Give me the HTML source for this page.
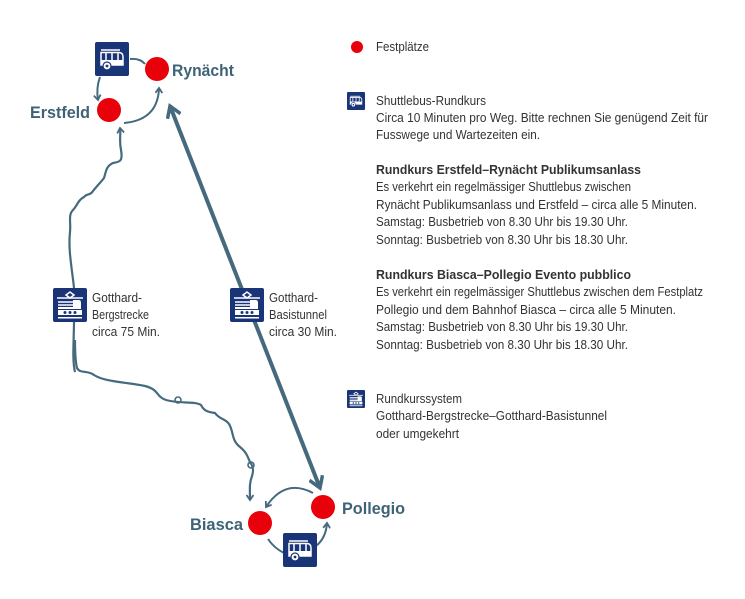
<!DOCTYPE html>
<html><head><meta charset="utf-8"><style>
html,body{margin:0;padding:0;background:#fff;}
svg{display:block;}
text{font-family:"Liberation Sans Narrow","Liberation Sans",sans-serif;}
.t{font-size:13px;fill:#333;}
.b{font-size:13px;fill:#333;font-weight:bold;}
.L{font-size:17px;fill:#3e6378;font-weight:bold;}
</style></head><body>
<svg width="745" height="599" viewBox="0 0 745 599" xmlns="http://www.w3.org/2000/svg">
<defs>
<g id="bus">
<rect x="0" y="0" width="34" height="34" rx="2" fill="#1a3577"/>
<g stroke="#fff" stroke-width="1.5" fill="none">
<line x1="6" y1="8" x2="25" y2="8"/>
<path d="M6 10.5 H24 Q28 10.5 28 15 V23 H6 Z"/>
<line x1="11" y1="10.5" x2="11" y2="18"/><line x1="17" y1="10.5" x2="17" y2="18"/><line x1="23" y1="10.5" x2="23" y2="18"/>
</g>
<rect x="6" y="18" width="22" height="5" fill="#fff"/>
<circle cx="12" cy="24" r="4" fill="#fff" stroke="#1a3577" stroke-width="1.2"/>
<circle cx="12" cy="24" r="1.4" fill="#1a3577"/>
</g>
<g id="train">
<rect x="0" y="0" width="34" height="34" rx="2" fill="#1a3577"/>
<g stroke="#fff" stroke-width="1.5" fill="none">
<path d="M13 7 L17 4 L21 7 L17 10 Z"/>
<line x1="4" y1="10" x2="30" y2="10"/>
<line x1="5" y1="14" x2="20" y2="14"/><line x1="5" y1="17" x2="20" y2="17"/>
</g>
<path d="M20 12 H26 Q28 12 28 15 V21 H5 V19 H20 Z" fill="#fff"/>
<rect x="5" y="22" width="24" height="5" fill="#fff"/>
<circle cx="12" cy="24.5" r="1.5" fill="#1a3577"/><circle cx="17" cy="24.5" r="1.5" fill="#1a3577"/><circle cx="22" cy="24.5" r="1.5" fill="#1a3577"/>
<rect x="5" y="29" width="24" height="1.5" fill="#fff"/>
</g>
<marker id="ah" markerWidth="8" markerHeight="8" refX="6" refY="4" orient="auto" markerUnits="userSpaceOnUse">
<path d="M1 0.5 L6 4 L1 7.5" fill="none" stroke="#456a7e" stroke-width="1.8"/>
</marker>
<marker id="big" markerWidth="16" markerHeight="16" refX="12" refY="8" orient="auto-start-reverse" markerUnits="userSpaceOnUse">
<path d="M1 1 L12 8 L1 15" fill="none" stroke="#456a7e" stroke-width="3.5"/>
</marker>
</defs>

<line x1="170" y1="106" x2="320" y2="488" stroke="#456a7e" stroke-width="4" marker-start="url(#big)" marker-end="url(#big)"/>
<path d="M75 372 C72 360 74 340 74 320 M74 288 C72 268 68 250 70 232 C71 222 68 215 73 210 C77 206 78 200 84 197 C87 193 90 196 93 191 C97 186 101 182 104 178 C106 172 106 166 113 163 C120 162 123 161 121 150 C119 140 121 135 120 128"
 fill="none" stroke="#456a7e" stroke-width="2.2" marker-end="url(#ah)"/>
<path d="M76 320 V288" stroke="#456a7e" stroke-width="2.2"/>
<path d="M75 340 C75 350 75 360 77 368 C80 374 88 370 94 375 C105 382 125 382 145 386 C160 390 155 396 166 400 C180 404 195 401 201 405 C204 411 208 412 215 413 C220 420 225 418 229 424 C234 432 231 440 240 447 C246 452 247 455 250 462 C253 466 254 470 252 476 C249 484 250 490 250 500"
 fill="none" stroke="#456a7e" stroke-width="2.2" marker-end="url(#ah)"/>
<circle cx="178" cy="400" r="3" fill="none" stroke="#456a7e" stroke-width="1.6"/>
<circle cx="251" cy="465" r="3" fill="none" stroke="#456a7e" stroke-width="1.6"/>

<path d="M130 59 Q140 58 145 64" fill="none" stroke="#456a7e" stroke-width="2"/>
<path d="M100 77 Q96 88 98 100" fill="none" stroke="#456a7e" stroke-width="2" marker-end="url(#ah)"/>
<path d="M124 123 Q158 120 159 88" fill="none" stroke="#456a7e" stroke-width="2" marker-end="url(#ah)"/>
<path d="M313 493 Q285 478 266 507" fill="none" stroke="#456a7e" stroke-width="2" marker-end="url(#ah)"/>
<path d="M268 539 Q274 548 284 553" fill="none" stroke="#456a7e" stroke-width="2"/>
<path d="M316 546 Q326 538 327 523" fill="none" stroke="#456a7e" stroke-width="2" marker-end="url(#ah)"/>

<circle cx="157" cy="69" r="12" fill="#e8000b"/>
<circle cx="109" cy="110" r="12" fill="#e8000b"/>
<circle cx="323" cy="507" r="12" fill="#e8000b"/>
<circle cx="260" cy="523" r="12" fill="#e8000b"/>
<circle cx="357" cy="47" r="6" fill="#e8000b"/>

<use href="#bus" x="95" y="42"/>
<use href="#bus" x="283" y="533"/>
<use href="#train" x="53" y="288"/>
<use href="#train" x="230" y="288"/>
<use href="#bus" transform="translate(347,92) scale(0.53)"/>
<use href="#train" transform="translate(347,390) scale(0.53)"/>

<text class="L" x="172" y="76" textLength="62" lengthAdjust="spacingAndGlyphs">Rynächt</text>
<text class="L" x="30" y="118" textLength="60" lengthAdjust="spacingAndGlyphs">Erstfeld</text>
<text class="L" x="190" y="530" textLength="53" lengthAdjust="spacingAndGlyphs">Biasca</text>
<text class="L" x="342" y="514" textLength="63" lengthAdjust="spacingAndGlyphs">Pollegio</text>

<text class="t" x="92" y="302" textLength="50" lengthAdjust="spacingAndGlyphs">Gotthard-</text>
<text class="t" x="92" y="319" textLength="57" lengthAdjust="spacingAndGlyphs">Bergstrecke</text>
<text class="t" x="92" y="336" textLength="68" lengthAdjust="spacingAndGlyphs">circa 75 Min.</text>
<text class="t" x="269" y="302" textLength="49" lengthAdjust="spacingAndGlyphs">Gotthard-</text>
<text class="t" x="269" y="319" textLength="58" lengthAdjust="spacingAndGlyphs">Basistunnel</text>
<text class="t" x="269" y="336" textLength="68" lengthAdjust="spacingAndGlyphs">circa 30 Min.</text>

<text class="t" x="376" y="51" textLength="53" lengthAdjust="spacingAndGlyphs">Festplätze</text>
<text class="t" x="376" y="105" textLength="110" lengthAdjust="spacingAndGlyphs">Shuttlebus-Rundkurs</text>
<text class="t" x="376" y="122" textLength="332" lengthAdjust="spacingAndGlyphs">Circa 10 Minuten pro Weg. Bitte rechnen Sie genügend Zeit für</text>
<text class="t" x="376" y="139" textLength="164" lengthAdjust="spacingAndGlyphs">Fusswege und Wartezeiten ein.</text>

<text class="b" x="376" y="174" textLength="265" lengthAdjust="spacingAndGlyphs">Rundkurs Erstfeld–Rynächt Publikumsanlass</text>
<text class="t" x="376" y="191" textLength="255" lengthAdjust="spacingAndGlyphs">Es verkehrt ein regelmässiger Shuttlebus zwischen</text>
<text class="t" x="376" y="209" textLength="321" lengthAdjust="spacingAndGlyphs">Rynächt Publikumsanlass und Erstfeld – circa alle 5 Minuten.</text>
<text class="t" x="376" y="226" textLength="252" lengthAdjust="spacingAndGlyphs">Samstag: Busbetrieb von 8.30 Uhr bis 19.30 Uhr.</text>
<text class="t" x="376" y="244" textLength="252" lengthAdjust="spacingAndGlyphs">Sonntag:  Busbetrieb von 8.30 Uhr bis 18.30 Uhr.</text>

<text class="b" x="376" y="279" textLength="255" lengthAdjust="spacingAndGlyphs">Rundkurs Biasca–Pollegio Evento pubblico</text>
<text class="t" x="376" y="296" textLength="327" lengthAdjust="spacingAndGlyphs">Es verkehrt ein regelmässiger Shuttlebus zwischen dem Festplatz</text>
<text class="t" x="376" y="314" textLength="300" lengthAdjust="spacingAndGlyphs">Pollegio und dem Bahnhof Biasca – circa alle 5 Minuten.</text>
<text class="t" x="376" y="331" textLength="252" lengthAdjust="spacingAndGlyphs">Samstag: Busbetrieb von 8.30 Uhr bis 19.30 Uhr.</text>
<text class="t" x="376" y="349" textLength="252" lengthAdjust="spacingAndGlyphs">Sonntag:  Busbetrieb von 8.30 Uhr bis 18.30 Uhr.</text>

<text class="t" x="376" y="403" textLength="86" lengthAdjust="spacingAndGlyphs">Rundkurssystem</text>
<text class="t" x="376" y="420" textLength="231" lengthAdjust="spacingAndGlyphs">Gotthard-Bergstrecke–Gotthard-Basistunnel</text>
<text class="t" x="376" y="438" textLength="83" lengthAdjust="spacingAndGlyphs">oder umgekehrt</text>
</svg>
</body></html>
